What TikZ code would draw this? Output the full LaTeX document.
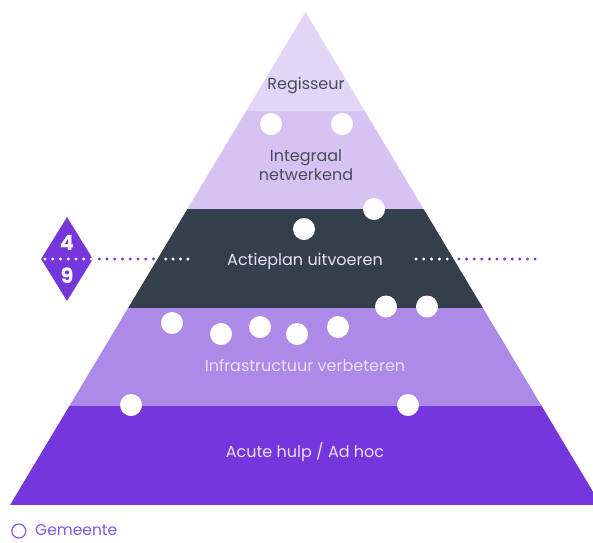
\documentclass[tikz,border=0pt]{standalone}
\usepackage{fontspec}
\setmainfont{Poppins}
\usetikzlibrary{shapes.geometric}
\definecolor{bandA}{HTML}{E2D6F6}
\definecolor{bandB}{HTML}{D6C3F1}
\definecolor{bandC}{HTML}{333F4A}
\definecolor{bandD}{HTML}{AD89E8}
\definecolor{bandE}{HTML}{7537DB}
\definecolor{darktext}{HTML}{4B4B57}
\definecolor{lighttext}{HTML}{EAE0FA}
\definecolor{legendpurple}{HTML}{8456E3}
\tikzset{
  marker/.style={circle,fill=white,draw=none,minimum size=22pt,inner sep=0pt},
  dotw/.style={circle,fill=white,inner sep=0pt,minimum size=3.3pt},
  dotp/.style={circle,fill=bandE,inner sep=0pt,minimum size=3.3pt},
  label/.style={font=\fontsize{16}{19}\selectfont,align=center},
}
\begin{document}
\begin{tikzpicture}[x=1pt,y=-1pt]
\useasboundingbox (0,0) rectangle (593,542);
\clip (0,0) rectangle (593,542);
\begin{scope}
  \clip (305.5,12) -- (601,505) -- (10,505) -- cycle;
  \fill[bandA] (0,0) rectangle (610,110.6);
  \fill[bandB] (0,110.6) rectangle (610,209.2);
  \fill[bandC] (0,209.2) rectangle (610,307.8);
  \fill[bandD] (0,307.8) rectangle (610,406.4);
  \fill[bandE] (0,406.4) rectangle (610,505);
\end{scope}
% labels
\node[label,text=darktext] (regisseur) at (306,86) {Regisseur};
\node[label,text=darktext] (integraal) at (306,165) {Integraal\\netwerkend};
\node[label,text=lighttext] (actieplan) at (305,261) {Actieplan uitvoeren};
\node[label,text=lighttext] (infra) at (305,365) {Infrastructuur verbeteren};
\node[label,text=lighttext] (acute) at (305,452) {Acute hulp / Ad hoc};
% diamond
\node[diamond,fill=bandE,minimum width=52pt,minimum height=84pt,inner sep=0pt] (dia) at (67,259) {};
\node[text=white,font=\fontsize{21}{21}\selectfont\bfseries] (four) at (67,243) {4};
\node[text=white,font=\fontsize{21}{21}\selectfont\bfseries] (nine) at (67,276) {9};
% dotted lines
\foreach \k in {0,...,14} {
  \pgfmathsetmacro{\xx}{45+7.75*\k}
  \ifdim \xx pt<94pt
    \node[dotw] at (\xx,259) {};
  \else
    \node[dotp] at (\xx,259) {};
  \fi
}
\foreach \k in {0,...,3} \node[dotw] at (165.7+7.4*\k,259) {};
\foreach \k in {0,...,4} \node[dotw] at (416+7.8*\k,259) {};
\foreach \k in {0,...,10} \node[dotp] at (459+7.6*\k,259) {};
% markers
\node[marker] (m1) at (271,124) {};
\node[marker] (m2) at (342,124) {};
\node[marker] (m3) at (374,209) {};
\node[marker] (m4) at (304,229) {};
\node[marker] (m5) at (172,323) {};
\node[marker] (m6) at (221,334) {};
\node[marker] (m7) at (260,327) {};
\node[marker] (m8) at (297,334) {};
\node[marker] (m9) at (338,327) {};
\node[marker] (m10) at (386,306.5) {};
\node[marker] (m11) at (427,306.5) {};
\node[marker] (m12) at (131,405) {};
\node[marker] (m13) at (408,405) {};
% legend
\node[circle,draw=legendpurple,line width=1.2pt,minimum size=14pt,inner sep=0pt] (legcirc) at (18.8,531) {};
\node[anchor=base west,text=legendpurple,font=\fontsize{15.5}{18}\selectfont,inner sep=0pt] (legtext) at (35,535.5) {Gemeente};
\end{tikzpicture}
\end{document}
